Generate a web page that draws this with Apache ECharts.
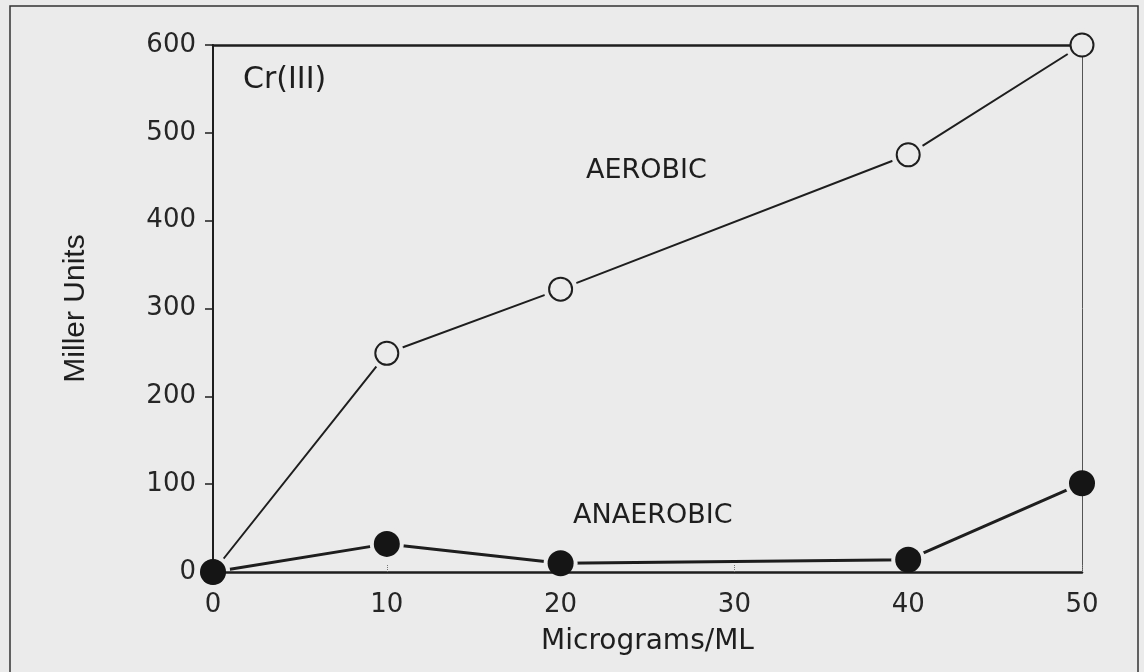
<!DOCTYPE html>
<html><head><meta charset="utf-8">
<script src="https://cdn.jsdelivr.net/npm/echarts@6/dist/echarts.min.js"></script>
<style>html,body{margin:0;padding:0;background:#ebebeb}#c{width:1144px;height:672px}</style>
</head><body><div id="c"></div>
<script>
const concentrations = [0, 10, 20, 40, 50];
const aerobic = [0, 249, 322, 475, 600];
const anaerobic = [0, 32, 10, 14, 101];
const xTicks = [0, 10, 20, 30, 40, 50];
const yTicks = [0, 100, 200, 300, 400, 500, 600];

const BG = '#ebebeb', INK = '#1e1e1e';
const FONT = 'DejaVu Sans';
const pairs = v => concentrations.map((c, i) => [c, v[i]]);

const chart = echarts.init(document.getElementById('c'));
chart.setOption({
  backgroundColor: BG,
  animation: false,
  grid: {left: 213, right: 62, top: 45, bottom: 100},
  xAxis: [{
    type: 'value', min: xTicks[0], max: xTicks[xTicks.length-1], interval: 10, z: 10,
    axisLine: {onZero: false, lineStyle: {color: INK, width: 2.5}},
    axisTick: {inside: true, length: 7, lineStyle: {color: '#777', width: 1, type: 'dotted'}},
    axisLabel: {color: '#262626', fontFamily: FONT, fontSize: 26, margin: 20},
    splitLine: {show: false},
    name: 'Micrograms/ML', nameLocation: 'middle', nameGap: 56,
    nameTextStyle: {color: INK, fontFamily: FONT, fontSize: 28}
  }, {
    type: 'value', position: 'top', min: 0, max: 50, z: 10,
    axisLine: {show: true, onZero: false, lineStyle: {color: INK, width: 2.5}},
    axisTick: {show: false}, axisLabel: {show: false}, splitLine: {show: false}
  }],
  yAxis: [{
    type: 'value', min: yTicks[0], max: yTicks[yTicks.length-1], interval: 100, z: 10,
    axisLine: {show: true, onZero: false, lineStyle: {color: INK, width: 2}},
    axisTick: {show: true, length: 8, lineStyle: {color: INK, width: 1.5}},
    axisLabel: {color: '#262626', fontFamily: FONT, fontSize: 26, margin: 17},
    splitLine: {show: false},
    name: 'Miller Units', nameLocation: 'middle', nameGap: 122,
    nameTextStyle: {color: INK, fontFamily: '"Liberation Sans Narrow", "Liberation Sans"', fontSize: 30}
  }, {
    type: 'value', position: 'right', min: 0, max: 600, z: 10,
    axisLine: {show: true, onZero: false, lineStyle: {color: '#555', width: 1}},
    axisTick: {show: false}, axisLabel: {show: false}, splitLine: {show: false}
  }],
  graphic: [
    {type: 'rect', shape: {x: 10, y: 6, width: 1128, height: 700}, style: {fill: 'none', stroke: '#333', lineWidth: 1.5}, z: 0},
    {type: 'text', left: 243, top: 65, style: {text: 'Cr(III)', font: '30px "DejaVu Sans"', fill: INK}, z: 20},
    {type: 'text', left: 586, top: 157, style: {text: 'AEROBIC', font: '27px "DejaVu Sans"', fill: INK}, z: 20},
    {type: 'text', left: 573, top: 502, style: {text: 'ANAEROBIC', font: '27px "DejaVu Sans"', fill: INK}, z: 20}
  ],
  series: [
    {type: 'line', data: pairs(aerobic), showSymbol: false, z: 2, lineStyle: {color: INK, width: 2}},
    {type: 'line', data: pairs(anaerobic), showSymbol: false, z: 2, lineStyle: {color: INK, width: 3}},
    {type: 'scatter', data: pairs(aerobic), symbolSize: 34, z: 3, silent: true, itemStyle: {color: BG, opacity: 1}},
    {type: 'scatter', data: pairs(anaerobic), symbolSize: 34, z: 3, silent: true, itemStyle: {color: BG, opacity: 1}},
    {type: 'scatter', name: 'AEROBIC', data: pairs(aerobic), symbol: 'circle', symbolSize: 23, z: 20,
     itemStyle: {color: BG, borderColor: INK, borderWidth: 2, opacity: 1}},
    {type: 'scatter', name: 'ANAEROBIC', data: pairs(anaerobic), symbol: 'circle', symbolSize: 26, z: 21,
     itemStyle: {color: '#151515', opacity: 1}}
  ]
});
</script></body></html>
